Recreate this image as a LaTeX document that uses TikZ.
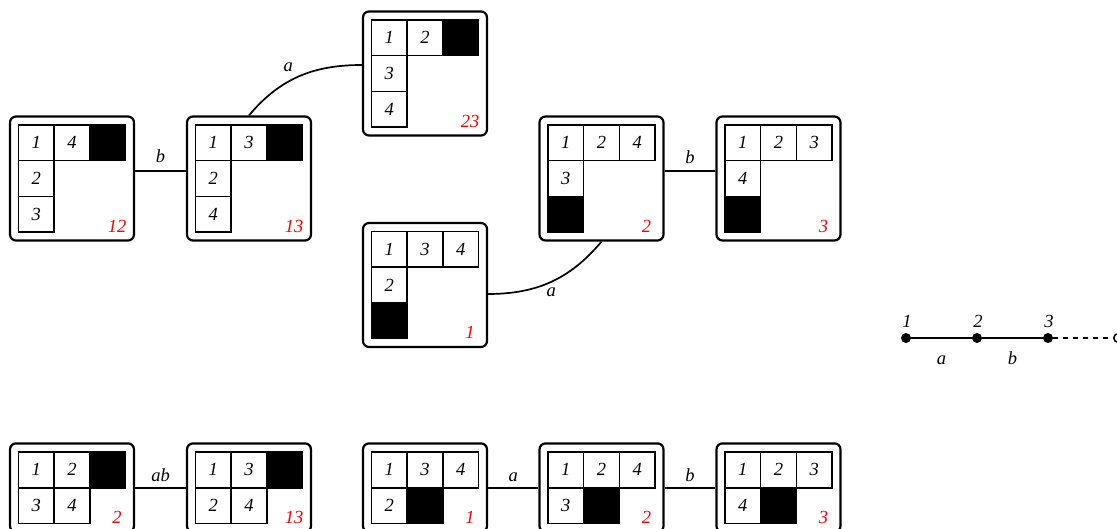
\documentclass[tikz,border=0pt]{standalone}
\usepackage{fontspec}
\setmainfont{Liberation Serif}
\def\cs{35.7}
\newcommand\cel[3]{\node[cell] (\bx-#1-#2) at ({(#1-2)*\cs},{(#2-\rmid)*\cs}) {#3};}
\newcommand\blk[2]{\node[blkcell] (\bx-#1-#2) at ({(#1-2)*\cs},{(#2-\rmid)*\cs}) {};}
\newcommand\ybox[6]{%
 \begin{scope}[shift={(#2,#3)}]
  \def\bx{#1}%
  \ifnum#4=3 \def\rmid{2}\def\bh{124}\else\def\rmid{1.5}\def\bh{88.6}\fi
  \node[outerbox, minimum height=\bh pt] (#1) at (0,0) {};
  #6
  \node[lab] (#1-l) at (45,{(#4-\rmid+0.5)*\cs}) {#5};
 \end{scope}}
\begin{document}
\begin{tikzpicture}[x=1pt,y=-1pt,
  every node/.style={font=\fontsize{18.5}{20}\selectfont\itshape},
  cell/.style={draw, line width=1.6pt, minimum size=35.7pt, inner sep=0pt},
  blkcell/.style={cell, fill=black},
  outerbox/.style={draw, line width=2.2pt, rounded corners=6pt, minimum width=124pt, inner sep=0pt},
  lab/.style={text=red, anchor=base, inner sep=0pt},
  conn/.style={line width=1.7pt},
  elab/.style={inner sep=0pt},
  dot/.style={circle, fill=black, minimum size=10pt, inner sep=0pt},
  odot/.style={circle, draw, fill=white, line width=1.5pt, minimum size=8.5pt, inner sep=0pt}
]
\useasboundingbox (0,0) rectangle (1117,529);

% top part
\ybox{b12}{72}{178.5}{3}{12}{\cel11{1}\cel21{4}\blk31\cel12{2}\cel13{3}}
\ybox{b13}{249}{178.5}{3}{13}{\cel11{1}\cel21{3}\blk31\cel12{2}\cel13{4}}
\ybox{b23}{425}{73.5}{3}{23}{\cel11{1}\cel21{2}\blk31\cel12{3}\cel13{4}}
\ybox{b1}{425}{285}{3}{1}{\cel11{1}\cel21{3}\cel31{4}\cel12{2}\blk13}
\ybox{b2}{601.5}{178.5}{3}{2}{\cel11{1}\cel21{2}\cel31{4}\cel12{3}\blk13}
\ybox{b3}{778.5}{178.5}{3}{3}{\cel11{1}\cel21{2}\cel31{3}\cel12{4}\blk13}

\draw[conn] ([yshift=7.5pt]b12.east) -- node[elab, above=7pt] (lb1) {b} ([yshift=7.5pt]b13.west);
\draw[conn] ([yshift=7.5pt]b2.east) -- node[elab, above=6pt] (lb2) {b} ([yshift=7.5pt]b3.west);
\draw[conn] (b13.north) to[out=50,in=180] node[elab, pos=0.4, above=9pt] (la1) {a} ([yshift=8.5pt]b23.west);
\draw[conn] ([yshift=-9pt]b1.east) to[out=0,in=230] node[elab, pos=0.5, below=5pt] (la2) {a} (b2.south);

% bottom row
\ybox{c2}{72}{487.7}{2}{2}{\cel11{1}\cel21{2}\blk31\cel12{3}\cel22{4}}
\ybox{c13}{249}{487.7}{2}{13}{\cel11{1}\cel21{3}\blk31\cel12{2}\cel22{4}}
\ybox{c1}{425}{487.7}{2}{1}{\cel11{1}\cel21{3}\cel31{4}\cel12{2}\blk22}
\ybox{c2b}{601.5}{487.7}{2}{2}{\cel11{1}\cel21{2}\cel31{4}\cel12{3}\blk22}
\ybox{c3}{778.5}{487.7}{2}{3}{\cel11{1}\cel21{2}\cel31{3}\cel12{4}\blk22}

\draw[conn] (c2.east) -- node[elab, above=5pt] (lab1) {ab} (c13.west);
\draw[conn] (c1.east) -- node[elab, above=5pt] (la3) {a} (c2b.west);
\draw[conn] (c2b.east) -- node[elab, above=5pt] (lb3) {b} (c3.west);

% path diagram
\node[dot] (p1) at (906,338) {};
\node[dot] (p2) at (977,338) {};
\node[dot] (p3) at (1048,338) {};
\node[odot] (p4) at (1118,338) {};
\draw[conn] (p1) -- (p2) -- (p3);
\draw[conn, dash pattern=on 5pt off 5pt] (p3) -- (p4);
\node[elab, anchor=base] (t1) at (907,328) {1};
\node[elab, anchor=base] (t2) at (978,328) {2};
\node[elab, anchor=base] (t3) at (1049,328) {3};
\node[elab, anchor=base] (ta) at (941.5,365) {a};
\node[elab, anchor=base] (tb) at (1012.5,365) {b};
\end{tikzpicture}
\end{document}
